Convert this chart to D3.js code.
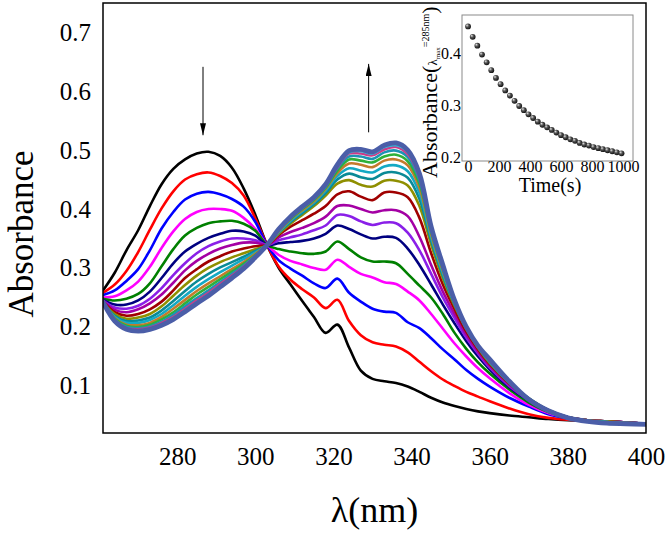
<!DOCTYPE html>
<html>
<head>
<meta charset="utf-8">
<script src="https://cdn.jsdelivr.net/npm/d3@7"></script>
<style>
  body { margin: 0; background: #fff; }
  svg { display: block; }
  svg text { font-family: "Liberation Serif", "Times New Roman", Times, serif; }
</style>
</head>
<body>
<div id="chart"></div>
<script>
// Wavelength grid (nm) shared by all spectra
const wavelengths = [261,264,267,270,273,276,279,282,285,288,291,294,297,300,303,306,309,312,315,318,321,324,327,330,333,336,339,342,345,348,351,354,357,360,365,370,375,380,385,390,395,400];

// Absorbance spectra, first scan to last scan
const spec01 = [0.262,0.292,0.330,0.364,0.405,0.442,0.468,0.484,0.494,0.497,0.490,0.470,0.435,0.390,0.339,0.300,0.272,0.244,0.217,0.190,0.204,0.165,0.126,0.112,0.108,0.105,0.099,0.090,0.080,0.072,0.066,0.061,0.057,0.054,0.050,0.047,0.044,0.042,0.041,0.040,0.038,0.036];
const spec02 = [0.258,0.272,0.295,0.327,0.365,0.401,0.430,0.450,0.459,0.462,0.456,0.444,0.423,0.384,0.339,0.302,0.280,0.264,0.250,0.232,0.246,0.210,0.186,0.174,0.170,0.167,0.157,0.141,0.125,0.111,0.100,0.090,0.082,0.074,0.062,0.052,0.046,0.043,0.041,0.040,0.038,0.036];
const spec03 = [0.254,0.262,0.278,0.298,0.330,0.367,0.395,0.416,0.426,0.429,0.425,0.417,0.404,0.378,0.339,0.313,0.299,0.287,0.274,0.266,0.282,0.258,0.243,0.231,0.226,0.224,0.208,0.198,0.181,0.162,0.145,0.127,0.112,0.099,0.080,0.065,0.052,0.045,0.041,0.040,0.038,0.036];
const spec04 = [0.250,0.252,0.262,0.277,0.302,0.334,0.362,0.383,0.395,0.400,0.400,0.397,0.385,0.366,0.339,0.322,0.312,0.306,0.300,0.297,0.314,0.302,0.290,0.284,0.276,0.273,0.260,0.245,0.222,0.197,0.172,0.150,0.130,0.113,0.088,0.068,0.054,0.046,0.041,0.040,0.038,0.036];
const spec05 = [0.248,0.245,0.248,0.256,0.274,0.303,0.332,0.355,0.368,0.376,0.379,0.380,0.375,0.363,0.339,0.332,0.328,0.325,0.324,0.328,0.345,0.332,0.318,0.311,0.311,0.308,0.290,0.270,0.250,0.222,0.190,0.163,0.140,0.121,0.094,0.072,0.056,0.047,0.042,0.040,0.038,0.036];
const spec06 = [0.246,0.238,0.238,0.245,0.260,0.283,0.308,0.328,0.341,0.351,0.358,0.363,0.362,0.355,0.339,0.342,0.344,0.346,0.350,0.358,0.372,0.366,0.357,0.350,0.353,0.351,0.333,0.305,0.272,0.238,0.206,0.176,0.150,0.128,0.098,0.075,0.057,0.047,0.042,0.040,0.038,0.036];
const spec07 = [0.245,0.233,0.231,0.236,0.248,0.266,0.288,0.308,0.325,0.337,0.345,0.350,0.350,0.347,0.339,0.347,0.352,0.357,0.364,0.372,0.390,0.388,0.379,0.373,0.377,0.376,0.360,0.330,0.290,0.250,0.215,0.182,0.155,0.131,0.100,0.076,0.058,0.047,0.042,0.040,0.038,0.036];
const spec08 = [0.244,0.229,0.225,0.230,0.240,0.255,0.275,0.296,0.312,0.324,0.333,0.339,0.343,0.343,0.339,0.352,0.361,0.368,0.376,0.387,0.405,0.406,0.400,0.394,0.398,0.398,0.388,0.353,0.305,0.260,0.222,0.187,0.158,0.134,0.102,0.077,0.058,0.047,0.042,0.040,0.038,0.036];
const spec09 = [0.243,0.225,0.219,0.222,0.230,0.243,0.262,0.283,0.298,0.311,0.320,0.328,0.333,0.337,0.339,0.356,0.370,0.381,0.392,0.405,0.425,0.430,0.421,0.415,0.428,0.428,0.420,0.385,0.325,0.272,0.230,0.192,0.162,0.137,0.104,0.078,0.059,0.047,0.042,0.040,0.038,0.036];
const spec10 = [0.242,0.222,0.214,0.216,0.222,0.235,0.253,0.271,0.287,0.300,0.310,0.318,0.325,0.332,0.339,0.358,0.375,0.390,0.405,0.423,0.443,0.449,0.441,0.438,0.448,0.448,0.440,0.405,0.340,0.282,0.236,0.197,0.165,0.139,0.105,0.079,0.059,0.047,0.042,0.040,0.038,0.036];
const spec11 = [0.242,0.219,0.210,0.211,0.216,0.228,0.244,0.261,0.277,0.290,0.301,0.310,0.319,0.329,0.339,0.360,0.378,0.393,0.408,0.427,0.450,0.460,0.454,0.451,0.461,0.462,0.453,0.417,0.347,0.287,0.238,0.198,0.166,0.140,0.106,0.079,0.059,0.047,0.041,0.039,0.037,0.036];
const spec12 = [0.242,0.217,0.207,0.207,0.212,0.222,0.237,0.253,0.268,0.281,0.293,0.304,0.315,0.326,0.339,0.361,0.380,0.396,0.411,0.431,0.456,0.469,0.465,0.462,0.472,0.474,0.464,0.427,0.352,0.291,0.240,0.198,0.166,0.141,0.106,0.078,0.059,0.047,0.041,0.039,0.037,0.036];
const spec13 = [0.242,0.215,0.204,0.203,0.207,0.217,0.231,0.246,0.261,0.274,0.286,0.298,0.310,0.324,0.339,0.362,0.382,0.398,0.413,0.434,0.461,0.477,0.475,0.471,0.482,0.484,0.474,0.436,0.357,0.295,0.241,0.199,0.167,0.142,0.107,0.078,0.059,0.047,0.041,0.038,0.037,0.035];
const spec14 = [0.242,0.214,0.202,0.200,0.204,0.213,0.225,0.240,0.255,0.268,0.281,0.294,0.307,0.322,0.339,0.364,0.383,0.400,0.415,0.436,0.465,0.484,0.482,0.479,0.489,0.492,0.481,0.443,0.361,0.298,0.242,0.199,0.167,0.143,0.107,0.078,0.058,0.046,0.041,0.038,0.036,0.035];
const spec15 = [0.242,0.212,0.200,0.198,0.201,0.209,0.221,0.235,0.249,0.262,0.276,0.290,0.304,0.321,0.339,0.364,0.385,0.401,0.417,0.438,0.469,0.489,0.489,0.485,0.496,0.499,0.488,0.449,0.364,0.300,0.243,0.199,0.167,0.144,0.107,0.078,0.058,0.046,0.040,0.038,0.036,0.035];
const spec16 = [0.242,0.211,0.198,0.196,0.199,0.207,0.217,0.231,0.245,0.258,0.273,0.287,0.302,0.320,0.339,0.365,0.386,0.402,0.418,0.440,0.471,0.494,0.494,0.491,0.501,0.505,0.493,0.454,0.367,0.302,0.244,0.200,0.168,0.144,0.108,0.077,0.058,0.046,0.040,0.037,0.036,0.035];
const spec17 = [0.242,0.210,0.197,0.194,0.197,0.204,0.215,0.228,0.242,0.255,0.270,0.284,0.300,0.319,0.339,0.366,0.387,0.403,0.419,0.441,0.473,0.496,0.498,0.494,0.505,0.508,0.497,0.457,0.369,0.304,0.245,0.200,0.168,0.145,0.108,0.077,0.058,0.046,0.040,0.037,0.036,0.035];
const spec18 = [0.242,0.210,0.196,0.193,0.196,0.203,0.213,0.226,0.240,0.253,0.268,0.283,0.299,0.318,0.339,0.366,0.387,0.404,0.420,0.442,0.475,0.499,0.501,0.497,0.508,0.512,0.500,0.460,0.370,0.305,0.245,0.200,0.168,0.145,0.108,0.077,0.058,0.046,0.040,0.037,0.036,0.035];

const spectra = [spec01, spec02, spec03, spec04, spec05, spec06, spec07, spec08, spec09,
                 spec10, spec11, spec12, spec13, spec14, spec15, spec16, spec17, spec18];

// Tick labels
const xTicks = [280, 300, 320, 340, 360, 380, 400];
const yTicks = [0.1, 0.2, 0.3, 0.4, 0.5, 0.6, 0.7];

// Inset: absorbance at 285 nm vs time
const insetTime = [0,30,60,90,120,150,180,210,240,270,300,330,360,390,420,450,480,510,540,570,600,630,660,690,720,750,780,810,840,870,900,930,960,990];
const insetAbs = [0.451,0.431,0.414,0.397,0.382,0.367,0.352,0.340,0.328,0.318,0.308,0.298,0.290,0.282,0.275,0.268,0.262,0.257,0.252,0.247,0.242,0.238,0.234,0.231,0.227,0.224,0.222,0.219,0.217,0.215,0.213,0.211,0.209,0.207];
const insetXTicks = [0, 200, 400, 600, 800, 1000];
const insetYTicks = [0.2, 0.3, 0.4];

// Styles
const lineColors = ["#000000","#ff0000","#0000ff","#ff00ff","#008000","#000080","#8a1fe8","#a400a4","#a00000",
                    "#8f8f00","#0a8a96","#14a9c4","#c47a2c","#2eb03a","#1c94b4","#cc3a88","#2cb8d8","#4b5ea8"];

// Set Dimensions
const width = 669;
const height = 534;
const margin = {top: 3, right: 23, bottom: 101, left: 103};
const plotW = width - margin.left - margin.right;
const plotH = height - margin.top - margin.bottom;

const root = d3.select("#chart")
  .append("svg")
  .attr("width", width)
  .attr("height", height);

const svg = root.append("g")
  .attr("transform", `translate(${margin.left},${margin.top})`);

// Scales
const x = d3.scaleLinear().domain([261, 400]).range([0, plotW]);
const y = d3.scaleLinear().domain([0.0203, 0.7492]).range([plotH, 0]);

svg.append("clipPath").attr("id", "plotClip")
  .append("rect").attr("width", plotW).attr("height", plotH);

// X Axis (labels only, no tick marks)
svg.append("g")
  .attr("transform", `translate(0,${plotH})`)
  .call(d3.axisBottom(x).tickValues(xTicks).tickSize(0).tickPadding(14).tickFormat(d3.format("d")))
  .call(g => g.select(".domain").remove())
  .attr("font-size", 25);

// Y Axis
svg.append("g")
  .call(d3.axisLeft(y).tickValues(yTicks).tickSize(0).tickPadding(12).tickFormat(d3.format(".1f")))
  .call(g => g.select(".domain").remove())
  .attr("font-size", 25);

// Spectra
const line = d3.line()
  .x((d, i) => x(wavelengths[i]))
  .y(d => y(d))
  .curve(d3.curveCatmullRom.alpha(0.5));

svg.append("g")
  .attr("clip-path", "url(#plotClip)")
  .selectAll("path")
  .data(spectra)
  .join("path")
  .attr("d", line)
  .attr("fill", "none")
  .attr("stroke", (d, i) => lineColors[i])
  .attr("stroke-width", (d, i) => i === spectra.length - 1 ? 4.8 : 2.6)
  .attr("stroke-linejoin", "round")
  .attr("stroke-linecap", "round");

// Frame
svg.append("rect")
  .attr("width", plotW)
  .attr("height", plotH)
  .attr("fill", "none")
  .attr("stroke", "#000")
  .attr("stroke-width", 1.5);

// Arrows
const defs = root.append("defs");
defs.append("marker")
  .attr("id", "arrowHead")
  .attr("viewBox", "0 0 10 10")
  .attr("refX", 10)
  .attr("refY", 5)
  .attr("markerUnits", "userSpaceOnUse")
  .attr("markerWidth", 12)
  .attr("markerHeight", 6)
  .attr("preserveAspectRatio", "none")
  .attr("orient", "auto")
  .append("path")
  .attr("d", "M0,0 L10,5 L0,10 Z")
  .attr("fill", "#000");

svg.append("line") // decreasing band
  .attr("x1", x(286.6)).attr("x2", x(286.6))
  .attr("y1", y(0.641)).attr("y2", y(0.525))
  .attr("stroke", "#000").attr("stroke-width", 1)
  .attr("marker-end", "url(#arrowHead)");

svg.append("line") // increasing band
  .attr("x1", x(329)).attr("x2", x(329))
  .attr("y1", y(0.530)).attr("y2", y(0.646))
  .attr("stroke", "#000").attr("stroke-width", 1)
  .attr("marker-end", "url(#arrowHead)");

// Axis titles
root.append("text")
  .attr("transform", "translate(33,234) rotate(-90)")
  .attr("text-anchor", "middle")
  .attr("font-size", 35)
  .text("Absorbance");

root.append("text")
  .attr("x", margin.left + plotW / 2)
  .attr("y", 522)
  .attr("text-anchor", "middle")
  .attr("font-size", 36)
  .text("λ(nm)");

// Inset
const inset = {left: 462, top: 15, right: 633, bottom: 161};
const ix = d3.scaleLinear().domain([-39, 1064]).range([0, inset.right - inset.left]);
const iy = d3.scaleLinear().domain([0.1923, 0.473]).range([inset.bottom - inset.top, 0]);

const ig = root.append("g")
  .attr("transform", `translate(${inset.left},${inset.top})`);

const grad = defs.append("radialGradient")
  .attr("id", "ball")
  .attr("cx", "40%").attr("cy", "40%").attr("r", "60%")
  .attr("fx", "32%").attr("fy", "30%");
grad.append("stop").attr("offset", "0%").attr("stop-color", "#e8e8e8");
grad.append("stop").attr("offset", "45%").attr("stop-color", "#555");
grad.append("stop").attr("offset", "100%").attr("stop-color", "#111");

ig.append("g")
  .attr("transform", `translate(0,${inset.bottom - inset.top})`)
  .call(d3.axisBottom(ix).tickValues(insetXTicks).tickSize(0).tickPadding(0).tickFormat(d3.format("d")))
  .call(g => g.select(".domain").remove())
  .attr("font-size", 16);

ig.append("g")
  .call(d3.axisLeft(iy).tickValues(insetYTicks).tickSize(0).tickPadding(1).tickFormat(d3.format(".1f")))
  .call(g => g.select(".domain").remove())
  .attr("font-size", 16);

ig.append("rect")
  .attr("width", inset.right - inset.left)
  .attr("height", inset.bottom - inset.top)
  .attr("fill", "none")
  .attr("stroke", "#8a8a8a")
  .attr("stroke-width", 1);

ig.selectAll("circle")
  .data(insetTime)
  .join("circle")
  .attr("cx", d => ix(d))
  .attr("cy", (d, i) => iy(insetAbs[i]))
  .attr("r", 2.9)
  .attr("fill", "url(#ball)");

root.append("text")
  .attr("x", 550)
  .attr("y", 192)
  .attr("text-anchor", "middle")
  .attr("font-size", 20)
  .text("Time(s)");

const iLabel = root.append("text")
  .attr("transform", "translate(437,178) rotate(-90)")
  .attr("font-size", 22);
iLabel.append("tspan").text("Absorbance(");
iLabel.append("tspan").attr("font-size", 13).text("λ");
iLabel.append("tspan").attr("font-size", 7).attr("dy", 3).text("max");
iLabel.append("tspan").attr("font-size", 10).attr("dy", -11).text("=285nm");
iLabel.append("tspan").attr("dy", 8).text(")");
</script>
</body>
</html>
